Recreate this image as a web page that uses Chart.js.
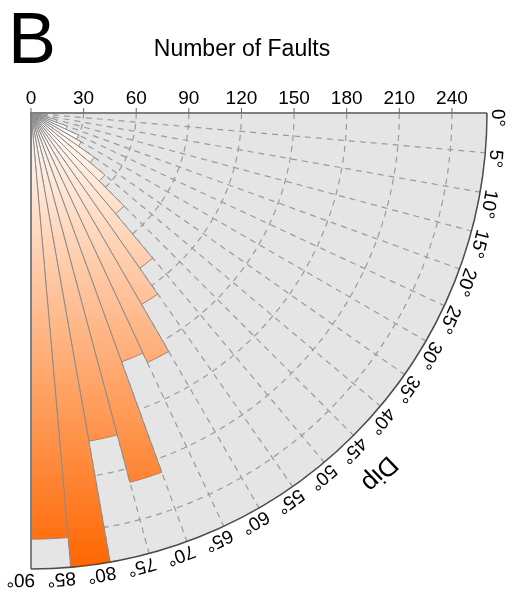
<!DOCTYPE html>
<html>
<head>
<meta charset="utf-8">
<script src="https://cdn.jsdelivr.net/npm/chart.js@4.4.1/dist/chart.umd.min.js"></script>
<style>
  html, body { margin: 0; padding: 0; background: #fff; }
  #wrap { width: 512px; height: 597px; }
</style>
</head>
<body>
<div id="wrap"><canvas id="rose" width="512" height="597"></canvas></div>
<script>
// dip bins (5 degrees each) and number of faults per bin
const dipBins = ['0-5', '5-10', '10-15', '15-20', '20-25', '25-30', '30-35', '35-40', '40-45',
                 '45-50', '50-55', '55-60', '60-65', '65-70', '70-75', '75-80', '80-85', '85-90'];
const faultCounts = [3, 6, 10, 15, 22, 30, 33, 44, 55, 75, 108, 126, 157, 151, 218, 190, 260, 243];
const countTicks = [0, 30, 60, 90, 120, 150, 180, 210, 240];
const dipTicks = [0, 5, 10, 15, 20, 25, 30, 35, 40, 45, 50, 55, 60, 65, 70, 75, 80, 85, 90];
const countMax = 260;
const binWidth = 5;

const FONT = "'Liberation Sans', Arial, sans-serif";
const rad = d => d * Math.PI / 180;

// puts the pole in the top left corner and draws the quarter frame + labels
const quarterPlugin = {
  id: 'quarter',
  afterLayout(chart) {
    const s = chart.scales.r;
    s.xCenter = 31;
    s.yCenter = 113;
    s.drawingArea = 456;
  },
  beforeDraw(chart) {
    const s = chart.scales.r, ctx = chart.ctx;
    const R = s.getDistanceFromCenterForValue(countMax);
    ctx.save();
    ctx.beginPath();
    ctx.moveTo(s.xCenter, s.yCenter);
    ctx.arc(s.xCenter, s.yCenter, R, 0, Math.PI / 2);
    ctx.closePath();
    ctx.clip();
  },
  beforeDatasetsDraw(chart) {
    const s = chart.scales.r, ctx = chart.ctx;
    const R = s.getDistanceFromCenterForValue(countMax);
    ctx.save();
    ctx.strokeStyle = '#9b9b9b';
    ctx.lineWidth = 1.2;
    ctx.setLineDash([6, 5]);
    dipTicks.slice(1, -1).forEach(d => {
      ctx.beginPath();
      ctx.moveTo(s.xCenter, s.yCenter);
      ctx.lineTo(s.xCenter + R * Math.cos(rad(d)), s.yCenter + R * Math.sin(rad(d)));
      ctx.stroke();
    });
    ctx.restore();
  },
  afterDatasetsDraw(chart) {
    const s = chart.scales.r, ctx = chart.ctx;
    ctx.restore();
    const cx = s.xCenter, cy = s.yCenter;
    const R = s.getDistanceFromCenterForValue(countMax);

    // frame
    ctx.save();
    ctx.strokeStyle = '#808080';
    ctx.lineWidth = 2;
    ctx.beginPath();
    ctx.moveTo(cx + R, cy);
    ctx.lineTo(cx, cy);
    ctx.lineTo(cx, cy + R);
    ctx.stroke();
    ctx.strokeStyle = '#4d4d4d';
    ctx.lineWidth = 1.5;
    ctx.beginPath();
    ctx.arc(cx, cy, R, 0, Math.PI / 2);
    ctx.stroke();

    // count axis along the top
    ctx.strokeStyle = '#666';
    ctx.lineWidth = 1;
    ctx.fillStyle = '#000';
    ctx.font = '19px ' + FONT;
    ctx.textAlign = 'center';
    ctx.textBaseline = 'alphabetic';
    countTicks.forEach(v => {
      const x = cx + s.getDistanceFromCenterForValue(v);
      ctx.beginPath();
      ctx.moveTo(x, cy - 5);
      ctx.lineTo(x, cy);
      ctx.stroke();
      ctx.fillText(String(v), x, cy - 9.5);
    });

    // dip labels round the arc
    ctx.textAlign = 'left';
    dipTicks.forEach(d => {
      ctx.save();
      ctx.translate(cx, cy);
      ctx.rotate(rad(d - 0.5));
      ctx.translate(R + 5, 0);
      ctx.rotate(Math.PI / 2);
      ctx.fillText(d + '°', 0, 0);
      ctx.restore();
    });

    ctx.save();
    ctx.translate(cx, cy);
    ctx.rotate(rad(46));
    ctx.translate(501, 0);
    ctx.rotate(Math.PI / 2);
    ctx.font = '26px ' + FONT;
    ctx.textAlign = 'center';
    ctx.textBaseline = 'middle';
    ctx.fillText('Dip', 0, 0);
    ctx.restore();

    // title and panel letter
    ctx.textAlign = 'center';
    ctx.textBaseline = 'alphabetic';
    ctx.font = '23px ' + FONT;
    ctx.fillText('Number of Faults', 242, 56);
    ctx.textAlign = 'left';
    ctx.font = '72px ' + FONT;
    ctx.fillText('B', 8, 63);
    ctx.restore();
  }
};

new Chart(document.getElementById('rose').getContext('2d'), {
  type: 'polarArea',
  data: {
    labels: dipBins,
    datasets: [{
      label: 'Number of Faults',
      data: faultCounts,
      angle: binWidth,
      backgroundColor: (context) => {
        const s = context.chart.scales.r;
        if (!s || !Number.isFinite(s.yCenter) || !Number.isFinite(s.drawingArea)) return '#ffa066';
        const g = context.chart.ctx.createLinearGradient(0, s.yCenter, 0, s.yCenter + s.drawingArea);
        g.addColorStop(0, '#ffffff');
        g.addColorStop(1, '#ff6600');
        return g;
      },
      borderColor: '#8c8c8c',
      borderWidth: 1
    }]
  },
  options: {
    responsive: false,
    animation: false,
    devicePixelRatio: 1,
    layout: { padding: 0 },
    plugins: {
      legend: { display: false },
      tooltip: { enabled: false },
      title: { display: false }
    },
    scales: {
      r: {
        min: 0,
        max: countMax,
        bounds: 'data',
        startAngle: 90,
        backgroundColor: '#e5e5e5',
        ticks: { stepSize: 30, includeBounds: false, display: false },
        grid: { circular: true, color: '#9b9b9b', lineWidth: 1.2 },
        border: { dash: [6, 5] },
        angleLines: { display: false },
        pointLabels: { display: false }
      }
    }
  },
  plugins: [quarterPlugin]
});
</script>
</body>
</html>
